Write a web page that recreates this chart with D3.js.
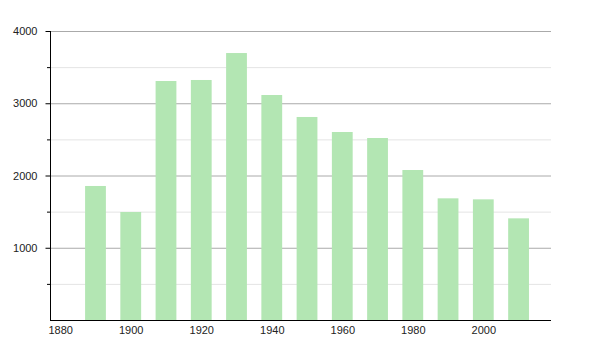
<!DOCTYPE html>
<html>
<head>
<meta charset="utf-8">
<script src="https://cdn.jsdelivr.net/npm/d3@7"></script>
<style>
  body { margin: 0; background: #fff; }
  svg { font-family: "Liberation Sans", Arial, sans-serif; font-size: 11px; }
</style>
</head>
<body>
<svg id="chart" width="600" height="350"></svg>
<script>
var years = [1890, 1900, 1910, 1920, 1930, 1940, 1950, 1960, 1970, 1980, 1990, 2000, 2010]
var population = [1855, 1495, 3308, 3322, 3695, 3114, 2810, 2602, 2519, 2076, 1684, 1670, 1407]
var xTicks = [1880, 1900, 1920, 1940, 1960, 1980, 2000]
var yMajor = [1000, 2000, 3000, 4000]
var yMinor = [500, 1500, 2500, 3500]

var svg = d3.select("#chart")
var x = d3.scaleLinear().domain([1877.1, 2019.2]).range([50, 551])
var y = d3.scaleLinear().domain([0, 4000]).range([320, 31])
var barW = x(1895.9) - x(1890)

// grid lines, light ones at the half thousands
svg.append("g").selectAll("line")
    .data(yMinor)
    .enter().append("line")
    .attr("x1", 50).attr("x2", 551)
    .attr("y1", d => y(d) + 0.5).attr("y2", d => y(d) + 0.5)
    .attr("stroke", "#e4e4e4")
svg.append("g").selectAll("line")
    .data(yMajor)
    .enter().append("line")
    .attr("x1", 50).attr("x2", 551)
    .attr("y1", d => y(d) + 0.5).attr("y2", d => y(d) + 0.5)
    .attr("stroke", "#aaaaaa")

// bars
svg.append("g").selectAll("rect")
    .data(years)
    .enter().append("rect")
    .attr("x", (d) => x(d) - barW / 2)
    .attr("width", barW)
    .attr("y", (d, i) => y(population[i]))
    .attr("height", (d, i) => y(0) - y(population[i]))
    .attr("fill", "#b3e6b3")

// y axis
var yAxis = svg.append("g")
    .attr("transform", "translate(50.5,0)")
    .call(d3.axisLeft(y).tickValues(yMajor).tickSize(5).tickPadding(8).tickFormat(d3.format("d")))
yAxis.select(".domain").attr("d", "M0," + y(4000) + "V" + (y(0) + 0.5))
svg.append("g").selectAll("line")
    .data(yMinor)
    .enter().append("line")
    .attr("x1", 47).attr("x2", 50)
    .attr("y1", d => y(d) + 0.5).attr("y2", d => y(d) + 0.5)
    .attr("stroke", "#000")

// x axis
var xAxis = svg.append("g")
    .attr("transform", "translate(0,320.5)")
    .call(d3.axisBottom(x).tickValues(xTicks).tickSize(0).tickPadding(6).tickFormat(d3.format("d")))
xAxis.select(".domain").attr("d", "M50,0H551")

svg.selectAll(".tick text").attr("fill", "#222").style("font-size", "11px")
</script>
</body>
</html>
